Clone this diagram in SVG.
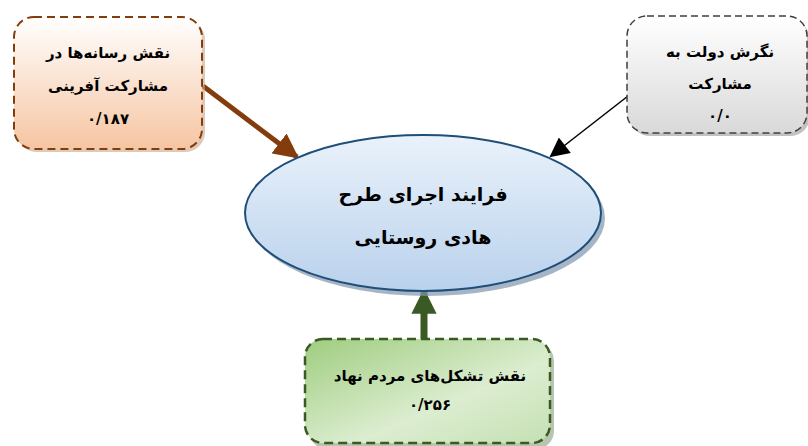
<svg xmlns="http://www.w3.org/2000/svg" width="808" height="446" viewBox="0 0 808 446">
<style>
.t{font-family:"DejaVu Sans","Noto Sans",sans-serif;font-weight:bold;text-anchor:middle;fill:#000;direction:rtl}
.s{font-size:15px}
.b{font-size:19px}
</style>
<defs>
<linearGradient id="gO" x1="0" y1="0" x2="0" y2="1"><stop offset="0" stop-color="#ffffff"/><stop offset="1" stop-color="#f6c5a2"/></linearGradient>
<linearGradient id="gG" x1="0" y1="0" x2="0" y2="1"><stop offset="0" stop-color="#ffffff"/><stop offset="1" stop-color="#d9d9d9"/></linearGradient>
<linearGradient id="gB" x1="0" y1="0" x2="0" y2="1"><stop offset="0" stop-color="#eaf2fb"/><stop offset="1" stop-color="#b9d1ec"/></linearGradient>
<linearGradient id="gN" x1="0" y1="0" x2="1" y2="1"><stop offset="0" stop-color="#9fcd7f"/><stop offset="0.6" stop-color="#dcedd0"/><stop offset="1" stop-color="#c5e0b3"/></linearGradient>
<marker id="mBr" viewBox="0 0 10 10" refX="9" refY="5" markerWidth="5" markerHeight="5" orient="auto" markerUnits="strokeWidth"><path d="M0,0 L10,5 L0,10 z" fill="#843c0c"/></marker>
<marker id="mBk" viewBox="0 0 10 10" refX="9" refY="5" markerWidth="14" markerHeight="13" orient="auto" markerUnits="strokeWidth"><path d="M0,0 L10,5 L0,10 z" fill="#000"/></marker>
<marker id="mGr" viewBox="0 0 10 10" refX="9" refY="5" markerWidth="3.6" markerHeight="3.6" orient="auto" markerUnits="strokeWidth"><path d="M0,0 L10,5 L0,10 z" fill="#3a5a23"/></marker>
</defs>
<rect width="808" height="446" fill="#fff"/>
<g id="connectors">
<line x1="203" y1="86" x2="297" y2="157" stroke="#843c0c" stroke-width="5" marker-end="url(#mBr)"/>
<line x1="628" y1="96" x2="551" y2="156" stroke="#000" stroke-width="1.5" marker-end="url(#mBk)"/>
<line x1="424" y1="339" x2="424" y2="291" stroke="#3a5a23" stroke-width="7" marker-end="url(#mGr)"/>
</g>
<g id="media">
<rect x="17" y="20" width="188" height="132" rx="20" fill="#c9a58b" opacity="0.6"/>
<rect x="14" y="17" width="188" height="132" rx="20" fill="url(#gO)" stroke="#843c0c" stroke-width="2" stroke-dasharray="8 5"/>
<text class="t s" x="108" y="58">نقش رسانه‌ها در</text>
<text class="t s" x="108" y="91">مشارکت آفرینی</text>
<text class="t s" x="108" y="124">۰/۱۸۷</text>
</g>
<g id="gov">
<rect x="630" y="20" width="180" height="116" rx="20" fill="#999" opacity="0.6"/>
<rect x="627" y="16" width="180" height="117" rx="20" fill="url(#gG)" stroke="#3f3f3f" stroke-width="1.5" stroke-dasharray="7 4"/>
<text class="t s" x="720" y="57">نگرش دولت به</text>
<text class="t s" x="720" y="89">مشارکت</text>
<text class="t s" x="720" y="121">۰/۰</text>
</g>
<g id="process">
<ellipse cx="427" cy="218" rx="178" ry="78" fill="#8096ad" opacity="0.7"/>
<ellipse cx="423" cy="213" rx="178" ry="78" fill="url(#gB)" stroke="#1f4e79" stroke-width="2"/>
<text class="t b" x="423" y="201">فرایند اجرای طرح</text>
<text class="t b" x="423" y="244">هادی روستایی</text>
</g>
<g id="ngo">
<rect x="309" y="343" width="245" height="106" rx="18" fill="#8aa07a" opacity="0.6"/>
<rect x="305" y="339" width="245" height="104" rx="18" fill="url(#gN)" stroke="#3a5a23" stroke-width="2.5" stroke-dasharray="9 5"/>
<text class="t s" x="430" y="381">نقش تشکل‌های مردم نهاد</text>
<text class="t s" x="430" y="410">۰/۲۵۶</text>
</g>
</svg>
